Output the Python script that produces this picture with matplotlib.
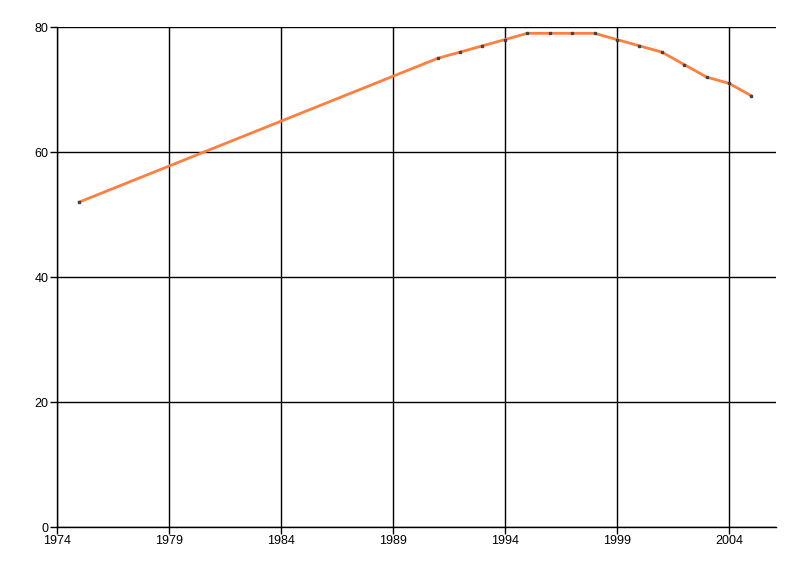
import matplotlib
matplotlib.use("Agg")
import matplotlib.pyplot as plt
from matplotlib import font_manager

# data
years = [1975, 1991, 1992, 1993, 1994, 1995, 1996, 1997, 1998,
         1999, 2000, 2001, 2002, 2003, 2004, 2005]
values = [52, 75, 76, 77, 78, 79, 79, 79, 79,
          78, 77, 76, 74, 72, 71, 69]
x_ticks = [1974, 1979, 1984, 1989, 1994, 1999, 2004]
y_ticks = [0, 20, 40, 60, 80]

names = {f.name for f in font_manager.fontManager.ttflist}
family = "Liberation Sans Narrow" if "Liberation Sans Narrow" in names else "Liberation Sans"
plt.rcParams["font.family"] = [family, "DejaVu Sans"]

fig = plt.figure(figsize=(8, 5.76), dpi=100)
ax = fig.add_axes([0.071, 0.085, 0.899, 0.868])

ax.plot(years, values, color="#ff7f3f", lw=2, zorder=3)
ax.plot(years, values, ls="none", marker="s", ms=2, color="#444444", zorder=4)

ax.set_xlim(1974, 2006.1)
ax.set_ylim(0, 80)
ax.set_xticks(x_ticks)
ax.set_yticks(y_ticks)
ax.grid(True, color="black", lw=1)
ax.set_axisbelow(True)

for side in ("top", "right"):
    ax.spines[side].set_visible(False)
for side in ("left", "bottom"):
    ax.spines[side].set_color("black")
    ax.spines[side].set_linewidth(1)

ax.tick_params(axis="both", length=5, width=1, color="black", labelsize=9, pad=1)

fig.savefig("out.png", dpi=100)
